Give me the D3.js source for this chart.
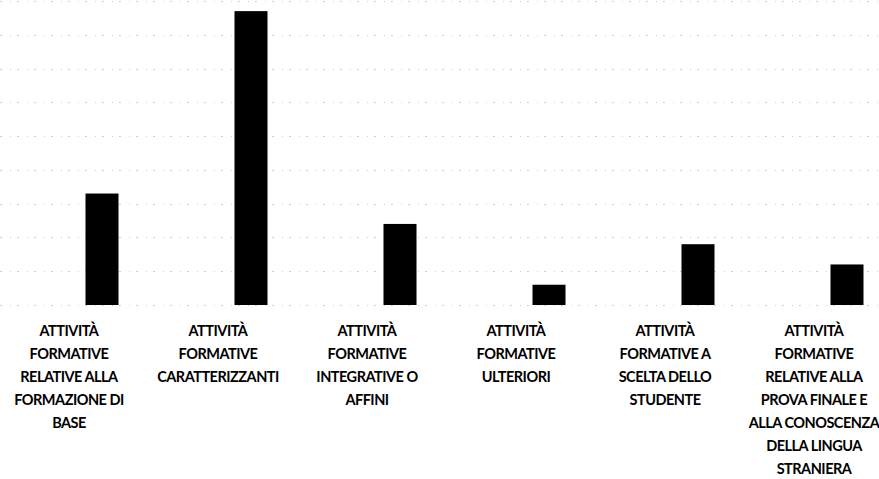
<!DOCTYPE html>
<html lang="it">
<head>
    <meta charset="utf-8">
    <script src="https://cdn.jsdelivr.net/npm/d3@7/dist/d3.min.js"></script>
    <style>
        body { margin: 0; background: #fff; }
        svg { display: block; }
    </style>
</head>
<body>
<div id="chart"></div>
<script>
    // categorie (etichette spezzate su piu' righe come nell'originale)
    var categories = [
        "ATTIVITÀ FORMATIVE RELATIVE ALLA FORMAZIONE DI BASE",
        "ATTIVITÀ FORMATIVE CARATTERIZZANTI",
        "ATTIVITÀ FORMATIVE INTEGRATIVE O AFFINI",
        "ATTIVITÀ FORMATIVE ULTERIORI",
        "ATTIVITÀ FORMATIVE A SCELTA DELLO STUDENTE",
        "ATTIVITÀ FORMATIVE RELATIVE ALLA PROVA FINALE E ALLA CONOSCENZA DELLA LINGUA STRANIERA"
    ]
    var labelLines = [
        ["ATTIVITÀ", "FORMATIVE", "RELATIVE ALLA", "FORMAZIONE DI", "BASE"],
        ["ATTIVITÀ", "FORMATIVE", "CARATTERIZZANTI"],
        ["ATTIVITÀ", "FORMATIVE", "INTEGRATIVE O", "AFFINI"],
        ["ATTIVITÀ", "FORMATIVE", "ULTERIORI"],
        ["ATTIVITÀ", "FORMATIVE A", "SCELTA DELLO", "STUDENTE"],
        ["ATTIVITÀ", "FORMATIVE", "RELATIVE ALLA", "PROVA FINALE E", "ALLA CONOSCENZA", "DELLA LINGUA", "STRANIERA"]
    ]
    // CFU
    var values = [66, 174, 48, 12, 36, 24]
    var gridTicks = [0, 20, 40, 60, 80, 100, 120, 140, 160, 180]

    var width = 879
        height = 479
        baseY = 305
        topY = 1
        barW = 33
        barShift = 33
        lineH = 23

    var svg = d3.select("#chart")
        .append("svg")
            .attr("width", width)
            .attr("height", height)

    var x = d3.scaleBand()
        .domain(categories)
        .range([-5.5, 888.5])
        .padding(0)

    var y = d3.scaleLinear()
        .domain([0, 180])
        .range([baseY, topY])

    // griglia puntinata (scansione)
    svg.append("g")
        .selectAll("line")
        .data(gridTicks)
        .enter()
        .append("line")
            .attr("x1", 0)
            .attr("x2", width)
            .attr("y1", function(d) { return Math.round(y(d)) + 0.5 })
            .attr("y2", function(d) { return Math.round(y(d)) + 0.5 })
            .attr("stroke", "#a0a0a0")
            .attr("stroke-width", 1)
            .attr("stroke-dasharray", "2,8,1,6")
            .attr("opacity", 0.5)

    svg.append("g")
        .selectAll("rect")
        .data(values)
        .enter()
        .append("rect")
            .attr("x", function(d, i) { return x(categories[i]) + x.bandwidth() / 2 + barShift - barW / 2 })
            .attr("y", function(d) { return y(d) })
            .attr("width", barW)
            .attr("height", function(d) { return baseY - y(d) })
            .attr("fill", "#000")

    var labels = svg.append("g")
        .selectAll("text")
        .data(labelLines)
        .enter()
        .append("text")
            .attr("text-anchor", "middle")
            .attr("font-family", "Lato, 'Open Sans', sans-serif")
            .attr("font-weight", 700)
            .attr("font-size", "14.5px")
            .attr("letter-spacing", "-0.5px")
            .attr("fill", "#000")
            .attr("transform", function(d, i) {
                return "translate(" + (x(categories[i]) + x.bandwidth() / 2) + "," + 336 + ")"
            })

    labels.selectAll("tspan")
        .data(function(d) { return d })
        .enter()
        .append("tspan")
            .attr("x", 0)
            .attr("y", function(d, j) { return j * lineH })
            .text(function(d) { return d })
</script>
</body>
</html>
